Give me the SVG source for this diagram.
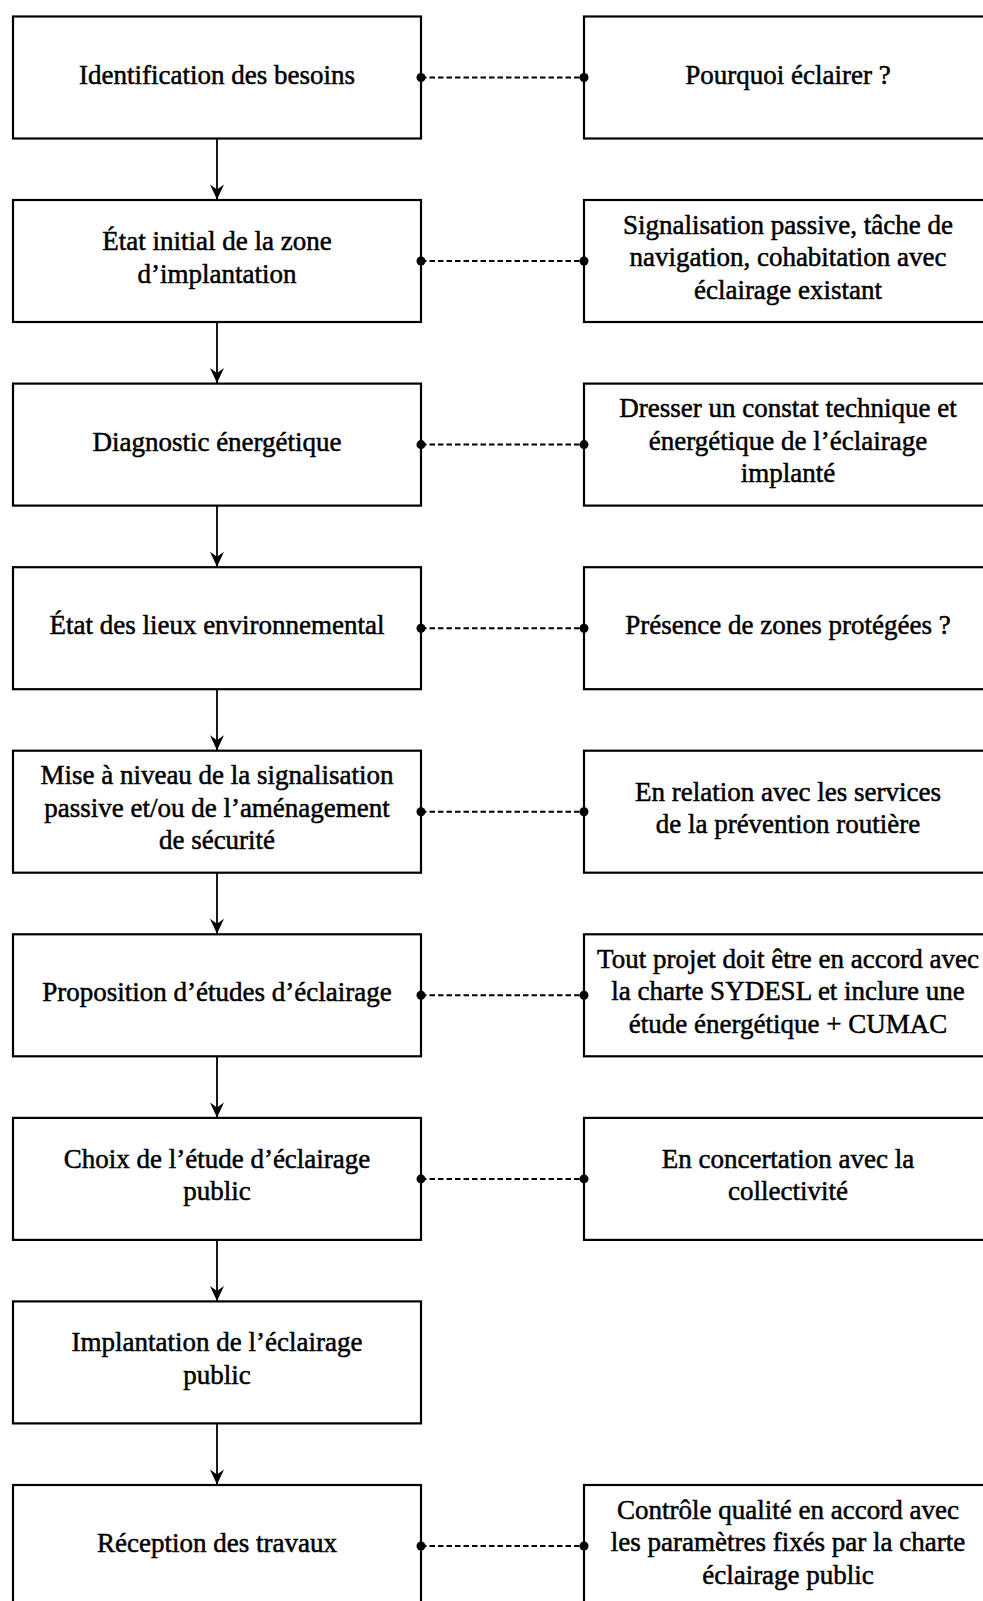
<svg xmlns="http://www.w3.org/2000/svg" width="983" height="1601" viewBox="0 0 983 1601">
<style>
.box{fill:#fff;stroke:#000;stroke-width:2.2}
.t{font-family:"Liberation Serif","Times New Roman",serif;font-size:27px;fill:#000;stroke:#000;stroke-width:0.5;text-anchor:middle}
.flow{stroke:#000;stroke-width:1.8;fill:none}
.dash{stroke:#000;stroke-width:2;stroke-dasharray:5.5 3;fill:none}
.dot{fill:#000}
</style>
<defs>
<marker id="arr" markerUnits="userSpaceOnUse" markerWidth="20" markerHeight="20" viewBox="-16 -10 20 20" refX="0" refY="0" orient="auto">
<path d="M0,0 L-15,-7 L-10,0 L-15,7 Z" fill="#000"/>
</marker>
</defs>
<rect width="983" height="1601" fill="#fff"/>
<g id="row0" transform="translate(0,16.5)">
<g id="n0"><rect class="box" x="13" y="0" width="408" height="122"/><text class="t" x="217" y="67">Identification des besoins</text></g>
<g id="r0"><rect class="box" x="584" y="0" width="408" height="122"/><text class="t" x="788" y="67">Pourquoi éclairer ?</text></g>
</g>
<g id="row1" transform="translate(0,200)">
<g id="n1"><rect class="box" x="13" y="0" width="408" height="122"/><text class="t" x="217" y="50">État initial de la zone</text><text class="t" x="217" y="82.5">d’implantation</text></g>
<g id="r1"><rect class="box" x="584" y="0" width="408" height="122"/><text class="t" x="788" y="33.5">Signalisation passive, tâche de</text><text class="t" x="788" y="66">navigation, cohabitation avec</text><text class="t" x="788" y="98.5">éclairage existant</text></g>
</g>
<g id="row2" transform="translate(0,383.6)">
<g id="n2"><rect class="box" x="13" y="0" width="408" height="122"/><text class="t" x="217" y="67">Diagnostic énergétique</text></g>
<g id="r2"><rect class="box" x="584" y="0" width="408" height="122"/><text class="t" x="788" y="33.5">Dresser un constat technique et</text><text class="t" x="788" y="66">énergétique de l’éclairage</text><text class="t" x="788" y="98.5">implanté</text></g>
</g>
<g id="row3" transform="translate(0,567.2)">
<g id="n3"><rect class="box" x="13" y="0" width="408" height="122"/><text class="t" x="217" y="67">État des lieux environnemental</text></g>
<g id="r3"><rect class="box" x="584" y="0" width="408" height="122"/><text class="t" x="788" y="67">Présence de zones protégées ?</text></g>
</g>
<g id="row4" transform="translate(0,750.7)">
<g id="n4"><rect class="box" x="13" y="0" width="408" height="122"/><text class="t" x="217" y="33.5">Mise à niveau de la signalisation</text><text class="t" x="217" y="66">passive et/ou de l’aménagement</text><text class="t" x="217" y="98.5">de sécurité</text></g>
<g id="r4"><rect class="box" x="584" y="0" width="408" height="122"/><text class="t" x="788" y="50">En relation avec les services</text><text class="t" x="788" y="82.5">de la prévention routière</text></g>
</g>
<g id="row5" transform="translate(0,934.3)">
<g id="n5"><rect class="box" x="13" y="0" width="408" height="122"/><text class="t" x="217" y="67">Proposition d’études d’éclairage</text></g>
<g id="r5"><rect class="box" x="584" y="0" width="408" height="122"/><text class="t" x="788" y="33.5">Tout projet doit être en accord avec</text><text class="t" x="788" y="66">la charte SYDESL et inclure une</text><text class="t" x="788" y="98.5">étude énergétique + CUMAC</text></g>
</g>
<g id="row6" transform="translate(0,1117.9)">
<g id="n6"><rect class="box" x="13" y="0" width="408" height="122"/><text class="t" x="217" y="50">Choix de l’étude d’éclairage</text><text class="t" x="217" y="82.5">public</text></g>
<g id="r6"><rect class="box" x="584" y="0" width="408" height="122"/><text class="t" x="788" y="50">En concertation avec la</text><text class="t" x="788" y="82.5">collectivité</text></g>
</g>
<g id="row7" transform="translate(0,1301.4)">
<g id="n7"><rect class="box" x="13" y="0" width="408" height="122"/><text class="t" x="217" y="50">Implantation de l’éclairage</text><text class="t" x="217" y="82.5">public</text></g>
</g>
<g id="row8" transform="translate(0,1485)">
<g id="n8"><rect class="box" x="13" y="0" width="408" height="122"/><text class="t" x="217" y="67">Réception des travaux</text></g>
<g id="r8"><rect class="box" x="584" y="0" width="408" height="122"/><text class="t" x="788" y="33.5">Contrôle qualité en accord avec</text><text class="t" x="788" y="66">les paramètres fixés par la charte</text><text class="t" x="788" y="98.5">éclairage public</text></g>
</g>
<g id="connectors">
<line class="flow" x1="217" y1="138.5" x2="217" y2="199.5" marker-end="url(#arr)"/>
<line class="flow" x1="217" y1="322" x2="217" y2="383.1" marker-end="url(#arr)"/>
<line class="flow" x1="217" y1="505.6" x2="217" y2="566.7" marker-end="url(#arr)"/>
<line class="flow" x1="217" y1="689.2" x2="217" y2="750.2" marker-end="url(#arr)"/>
<line class="flow" x1="217" y1="872.7" x2="217" y2="933.8" marker-end="url(#arr)"/>
<line class="flow" x1="217" y1="1056.3" x2="217" y2="1117.4" marker-end="url(#arr)"/>
<line class="flow" x1="217" y1="1239.9" x2="217" y2="1300.9" marker-end="url(#arr)"/>
<line class="flow" x1="217" y1="1423.4" x2="217" y2="1484.5" marker-end="url(#arr)"/>
<g id="links">
<line class="dash" x1="421" y1="77.5" x2="584" y2="77.5"/><circle class="dot" cx="421" cy="77.5" r="4.5"/><circle class="dot" cx="584" cy="77.5" r="4.5"/>
<line class="dash" x1="421" y1="261" x2="584" y2="261"/><circle class="dot" cx="421" cy="261" r="4.5"/><circle class="dot" cx="584" cy="261" r="4.5"/>
<line class="dash" x1="421" y1="444.6" x2="584" y2="444.6"/><circle class="dot" cx="421" cy="444.6" r="4.5"/><circle class="dot" cx="584" cy="444.6" r="4.5"/>
<line class="dash" x1="421" y1="628.2" x2="584" y2="628.2"/><circle class="dot" cx="421" cy="628.2" r="4.5"/><circle class="dot" cx="584" cy="628.2" r="4.5"/>
<line class="dash" x1="421" y1="811.7" x2="584" y2="811.7"/><circle class="dot" cx="421" cy="811.7" r="4.5"/><circle class="dot" cx="584" cy="811.7" r="4.5"/>
<line class="dash" x1="421" y1="995.3" x2="584" y2="995.3"/><circle class="dot" cx="421" cy="995.3" r="4.5"/><circle class="dot" cx="584" cy="995.3" r="4.5"/>
<line class="dash" x1="421" y1="1178.9" x2="584" y2="1178.9"/><circle class="dot" cx="421" cy="1178.9" r="4.5"/><circle class="dot" cx="584" cy="1178.9" r="4.5"/>
<line class="dash" x1="421" y1="1546" x2="584" y2="1546"/><circle class="dot" cx="421" cy="1546" r="4.5"/><circle class="dot" cx="584" cy="1546" r="4.5"/>
</g>
</g>
</svg>
